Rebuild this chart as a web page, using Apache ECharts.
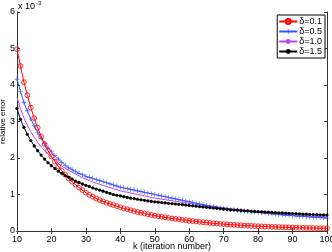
<!DOCTYPE html>
<html><head><meta charset="utf-8">
<script src="https://cdn.jsdelivr.net/npm/echarts@6/dist/echarts.min.js"></script>
<style>html,body{margin:0;padding:0;background:#fff}#c{width:332px;height:252px}</style>
</head><body><div id="c"></div>
<script>
var kStart = 10, kEnd = 100;
var names = ['δ=0.1','δ=0.5','δ=1.0','δ=1.5'];
var yTicks = [0,1,2,3,4,5,6];
// values in units of 1e-3, k = 10..100
var red = [4.98,4.52,4.08,3.72,3.38,3.09,2.83,2.59,2.38,2.20,2.04,1.90,1.77,1.65,1.54,1.44,1.35,1.27,1.19,1.12,1.05,0.99,0.94,0.89,0.85,0.81,0.77,0.74,0.71,0.68,0.65,0.62,0.595,0.57,0.545,0.52,0.50,0.48,0.46,0.44,0.42,0.405,0.39,0.375,0.36,0.345,0.33,0.32,0.305,0.295,0.28,0.27,0.26,0.25,0.24,0.23,0.22,0.212,0.204,0.196,0.188,0.181,0.174,0.168,0.162,0.156,0.150,0.145,0.140,0.135,0.130,0.126,0.122,0.118,0.114,0.110,0.107,0.104,0.101,0.098,0.095,0.092,0.089,0.087,0.085,0.083,0.081,0.079,0.077,0.075,0.073];
var blue = [4.16,3.82,3.53,3.29,3.07,2.88,2.70,2.54,2.40,2.28,2.17,2.06,1.97,1.88,1.80,1.73,1.68,1.63,1.58,1.54,1.50,1.47,1.44,1.41,1.38,1.35,1.32,1.29,1.26,1.23,1.20,1.18,1.16,1.14,1.12,1.10,1.08,1.06,1.04,1.02,1.00,0.98,0.96,0.94,0.92,0.90,0.88,0.86,0.84,0.82,0.80,0.78,0.76,0.74,0.72,0.70,0.68,0.66,0.645,0.63,0.615,0.60,0.59,0.58,0.57,0.56,0.55,0.54,0.53,0.52,0.51,0.50,0.49,0.48,0.47,0.46,0.45,0.44,0.435,0.43,0.42,0.41,0.405,0.40,0.39,0.385,0.38,0.375,0.37,0.36,0.355];
var magenta = [3.66,3.35,3.10,2.90,2.72,2.57,2.43,2.31,2.20,2.10,2.01,1.93,1.85,1.78,1.72,1.66,1.61,1.56,1.51,1.46,1.42,1.38,1.34,1.31,1.28,1.25,1.22,1.19,1.16,1.13,1.10,1.08,1.06,1.04,1.02,1.00,0.98,0.96,0.94,0.92,0.90,0.89,0.87,0.86,0.84,0.83,0.81,0.80,0.78,0.77,0.76,0.75,0.73,0.72,0.71,0.70,0.69,0.68,0.665,0.65,0.64,0.625,0.61,0.60,0.59,0.58,0.57,0.56,0.55,0.54,0.53,0.52,0.51,0.50,0.49,0.48,0.47,0.465,0.46,0.45,0.445,0.44,0.43,0.425,0.42,0.41,0.405,0.40,0.395,0.39,0.385];
var black = [3.36,3.06,2.84,2.65,2.48,2.33,2.20,2.08,1.97,1.87,1.79,1.71,1.64,1.58,1.52,1.47,1.42,1.37,1.33,1.29,1.25,1.22,1.18,1.15,1.12,1.09,1.06,1.03,1.00,0.98,0.96,0.94,0.92,0.90,0.885,0.87,0.855,0.84,0.825,0.81,0.80,0.79,0.78,0.77,0.76,0.75,0.74,0.73,0.72,0.71,0.70,0.69,0.68,0.67,0.66,0.65,0.64,0.63,0.62,0.61,0.60,0.59,0.58,0.575,0.57,0.56,0.555,0.55,0.54,0.535,0.53,0.525,0.52,0.515,0.51,0.505,0.50,0.495,0.49,0.485,0.48,0.475,0.47,0.465,0.46,0.455,0.45,0.447,0.444,0.441,0.438];

function pairs(arr){ var out=[]; for(var i=0;i<arr.length;i++) out.push([kStart+i, arr[i]]); return out; }
var plusPath = 'path://M4.4,0H5.6V4.4H10V5.6H5.6V10H4.4V5.6H0V4.4H4.4Z';
var font = 'Liberation Sans, Arial, sans-serif';
var axisCol = '#333';
var chart = echarts.init(document.getElementById('c'), null, {renderer:'canvas'});
chart.setOption({
  animation:false,
  backgroundColor:'#fff',
  textStyle:{fontFamily:font},
  grid:{left:17,right:5,top:12,bottom:21,containLabel:false,outerBoundsMode:'none'},
  legend:{
    orient:'vertical', right:7, top:15, itemWidth:18, itemHeight:6, itemGap:1,
    padding:[2,3,2,1], borderColor:'#000', borderWidth:1, backgroundColor:'#fff',
    textStyle:{fontSize:9,lineHeight:9,color:'#000',fontFamily:font,padding:[0,0,0,-3]},
    data:names
  },
  graphic:[
    {type:'text', left:18, top:2, style:{text:'x 10', fontSize:9, fill:'#000', fontFamily:font}},
    {type:'text', left:36, top:0, style:{text:'-3', fontSize:6, fill:'#000', fontFamily:font}}
  ],
  xAxis:[{
    type:'value', min:kStart, max:kEnd, interval:10,
    name:'k (iteration number)', nameLocation:'middle', nameGap:11, nameMoveOverlap:false,
    nameTextStyle:{fontSize:9,color:'#000',verticalAlign:'top'},
    axisLine:{lineStyle:{color:axisCol,width:1}},
    axisTick:{inside:true,length:3,lineStyle:{color:axisCol}},
    axisLabel:{fontSize:9,color:'#000',margin:4},
    splitLine:{show:false}
  },{
    type:'value', min:kStart, max:kEnd, interval:10, position:'top',
    axisLine:{show:true,lineStyle:{color:axisCol,width:1}},
    axisTick:{inside:true,length:3,lineStyle:{color:axisCol}},
    axisLabel:{show:false}, splitLine:{show:false}
  }],
  yAxis:[{
    type:'value', min:yTicks[0], max:yTicks[yTicks.length-1], interval:1,
    name:'relative error', nameLocation:'middle', nameGap:10, nameRotate:90, nameMoveOverlap:false,
    nameTextStyle:{fontSize:8,color:'#000'},
    axisLine:{show:true,lineStyle:{color:axisCol,width:1}},
    axisTick:{show:true,inside:true,length:3,lineStyle:{color:axisCol}},
    axisLabel:{fontSize:9,color:'#000',margin:2},
    splitLine:{show:false}
  },{
    type:'value', min:yTicks[0], max:yTicks[yTicks.length-1], interval:1, position:'right',
    axisLine:{show:true,lineStyle:{color:axisCol,width:1}},
    axisTick:{show:true,inside:true,length:3,lineStyle:{color:axisCol}},
    axisLabel:{show:false}, splitLine:{show:false}
  }],
  series:[
    {name:names[0], type:'line', data:pairs(red), symbol:'circle', symbolSize:4.8, showAllSymbol:true,
     lineStyle:{color:'#ff0000',width:1}, itemStyle:{color:'rgba(255,255,255,0)',borderColor:'#ff0000',borderWidth:0.8}, z:5},
    {name:names[1], type:'line', data:pairs(blue), symbol:plusPath, symbolSize:5, showAllSymbol:true,
     lineStyle:{color:'#3355ff',width:1}, itemStyle:{color:'#3355ff'}, z:4},
    {name:names[2], type:'line', data:pairs(magenta), symbol:'none',
     lineStyle:{color:'#c040ff',width:1}, itemStyle:{color:'#c040ff'}, z:3},
    {name:names[3], type:'line', data:pairs(black), symbol:'circle', symbolSize:3.2, showAllSymbol:true,
     lineStyle:{color:'#000',width:1}, itemStyle:{color:'#000'}, z:6}
  ]
});
</script></body></html>
